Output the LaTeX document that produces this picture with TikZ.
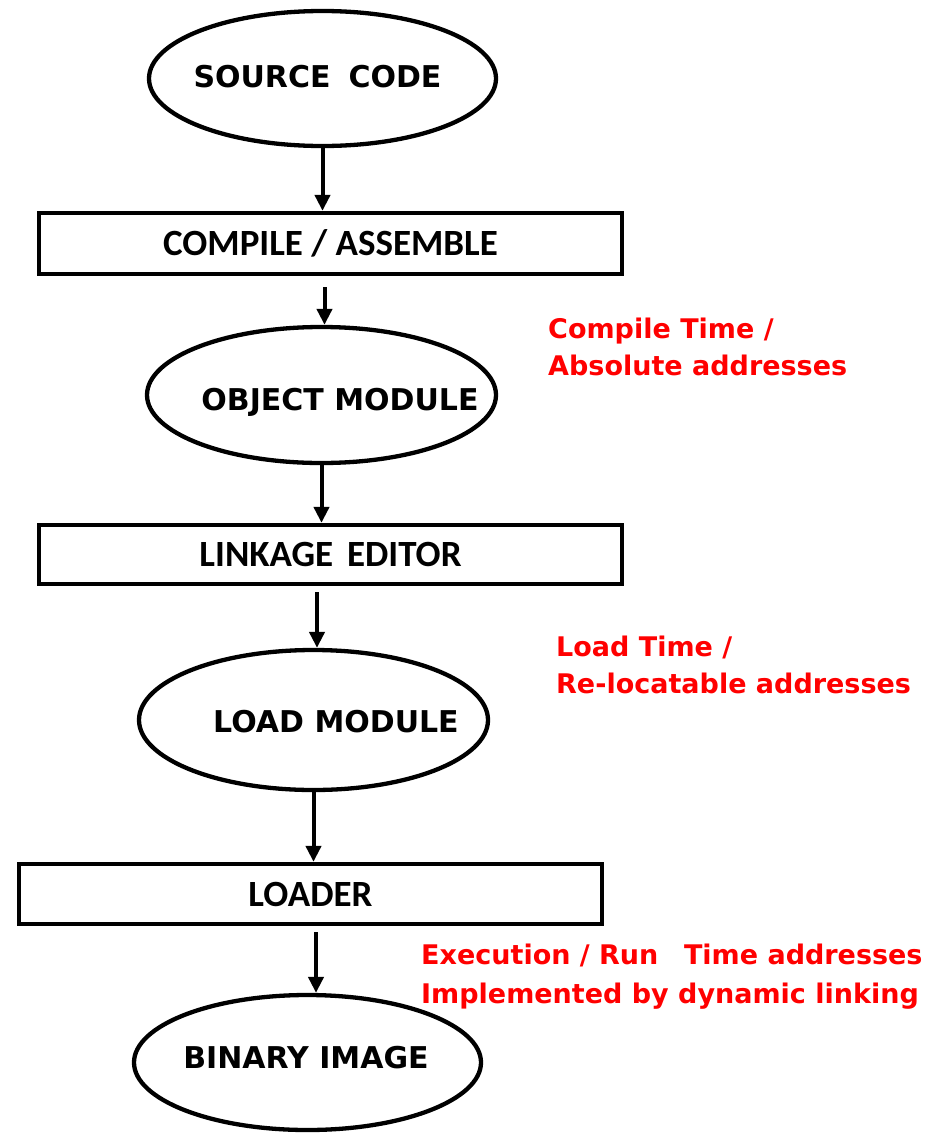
\documentclass[tikz,border=0pt]{standalone}
\usepackage{fontspec}
\setmainfont{DejaVu Sans}
\newfontfamily\calfont{Carlito}
\usetikzlibrary{shapes.geometric,arrows.meta}
\begin{document}
\begin{tikzpicture}[x=1pt,y=-1pt,
  ell/.style={draw, ellipse, line width=4.3pt, inner sep=0pt},
  box/.style={draw, rectangle, line width=4.3pt, inner sep=0pt, minimum width=583pt,
              font=\calfont\bfseries\fontsize{37}{44}\selectfont},
  etxt/.style={font=\bfseries\fontsize{30}{36}\selectfont, inner sep=0pt},
  note/.style={text=red, font=\bfseries\fontsize{27}{37}\selectfont, align=left,
               anchor=north west, inner sep=0pt},
  arr/.style={line width=4pt, -{Triangle[length=16pt,width=15pt]}}]
\useasboundingbox (0,0) rectangle (939,1133);

% shapes
\node[ell, minimum width=347pt, minimum height=135pt,
      label={[etxt, xshift=-5pt, yshift=2pt]center:SOURCE\hspace{0.6em}CODE}] (sc) at (322.5,78.5) {};
\node[box, minimum height=61pt] (ca) at (330.5,243.5) {COMPILE / ASSEMBLE};
\node[ell, minimum width=349pt, minimum height=136pt,
      label={[etxt, xshift=18.5pt, yshift=-7pt]center:OBJECT MODULE}] (om) at (321.5,395) {};
\node[box, minimum height=59pt] (le) at (330.5,554.5) {LINKAGE\hspace{0.15em} EDITOR};
\node[ell, minimum width=349pt, minimum height=140pt,
      label={[etxt, xshift=22.5pt, yshift=-2pt]center:LOAD MODULE}] (lm) at (313.5,720) {};
\node[box, minimum height=60pt] (ld) at (310.5,894) {LOADER};
\node[ell, minimum width=347pt, minimum height=135pt,
      label={[etxt, xshift=-1.5pt, yshift=5pt]center:BINARY IMAGE}] (bi) at (307.5,1062.5) {};

% notes
\node[note] (n1) at (548,318) {Compile Time /\\Absolute addresses};
\node[note] (n2) at (556,636) {Load Time /\\Re-locatable addresses};
\node[note, font=\bfseries\fontsize{27}{39}\selectfont] (n3) at (421,944) {Execution / Run\hspace{0.6em} Time addresses\\Implemented by dynamic linking};

% connectors
\draw[arr] (sc.south) -- (sc.south |- ca.north);
\draw[arr] ([xshift=3pt,yshift=-11pt]ca.south -| om.north) -- ([xshift=3pt]om.north);
\draw[arr] (om.south) -- (om.south |- le.north);
\draw[arr] ([xshift=3.5pt,yshift=-6pt]le.south -| lm.north) -- ([xshift=3.5pt]lm.north);
\draw[arr] (lm.south) -- (lm.south |- ld.north);
\draw[arr] ([xshift=8.5pt,yshift=-6pt]ld.south -| bi.north) -- ([xshift=8.5pt]bi.north);
\end{tikzpicture}
\end{document}
